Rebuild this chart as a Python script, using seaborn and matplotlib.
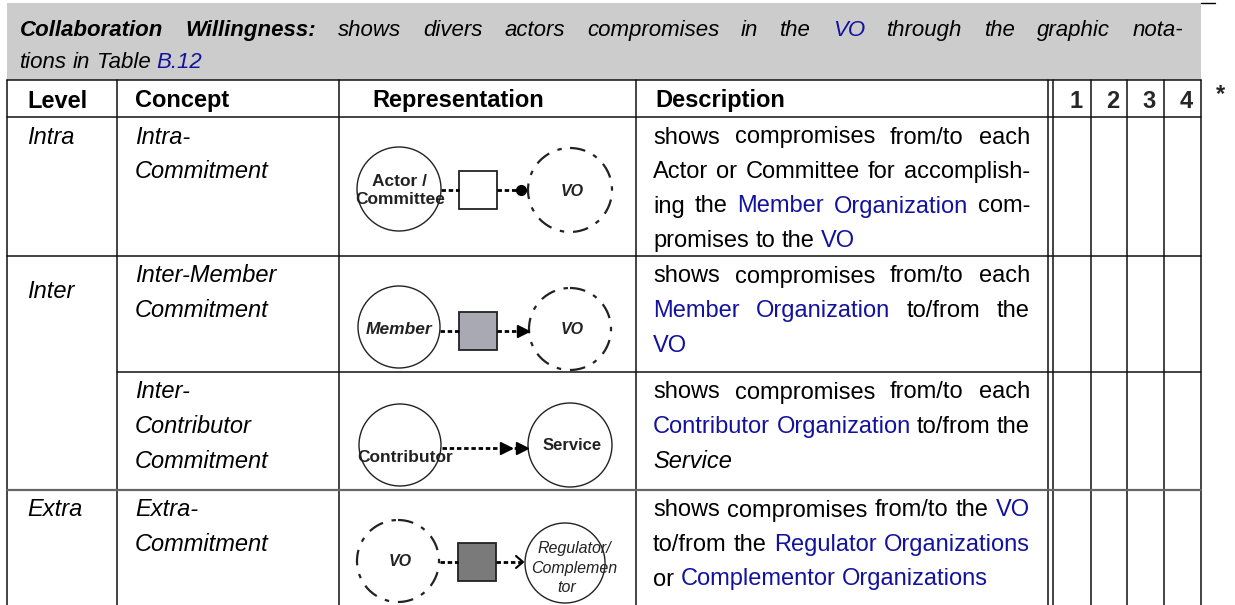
import seaborn as sns
import matplotlib.pyplot as plt
from matplotlib.patches import Circle, Rectangle

# table content
title_line1 = [("Collaboration Willingness:", "bi"), ("shows divers actors compromises in the", "i"),
               ("VO", "li"), ("through the graphic nota-", "i")]
title_line2 = [("tions in Table", "i"), ("B.12", "li")]
header = ["Level", "Concept", "Representation", "Description"]
score_cols = ["1", "2", "3", "4"]
levels = ["Intra", "Inter", "", "Extra"]
concepts = [["Intra-", "Commitment"],
            ["Inter-Member", "Commitment"],
            ["Inter-", "Contributor", "Commitment"],
            ["Extra-", "Commitment"]]
descriptions = [
    [[("shows compromises from/to each", "n")],
     [("Actor or Committee for accomplish-", "n")],
     [("ing the", "n"), ("Member Organization", "l"), ("com-", "n")],
     [("promises to the", "n"), ("VO", "l")]],
    [[("shows compromises from/to each", "n")],
     [("Member Organization", "l"), ("to/from the", "n")],
     [("VO", "l")]],
    [[("shows compromises from/to each", "n")],
     [("Contributor Organization", "l"), ("to/from the", "n")],
     [("Service", "i")]],
    [[("shows compromises from/to the", "n"), ("VO", "l")],
     [("to/from the", "n"), ("Regulator Organizations", "l")],
     [("or", "n"), ("Complementor Organizations", "l")]],
]

sns.set_theme(style="white")
plt.rcParams['font.family'] = ['Liberation Sans', 'DejaVu Sans']

W, H = 1235, 605
BLUE = '#12129e'
FS = 17
fig = plt.figure(figsize=(W / 100, H / 100), dpi=100)
ax = fig.add_axes([0, 0, 1, 1])
ax.set_xlim(0, W)
ax.set_ylim(H, 0)
ax.axis('off')
renderer = fig.canvas.get_renderer()


def props(kind, fs):
    d = dict(fontsize=fs, color='black', style='normal', weight='normal')
    if 'l' in kind:
        d['color'] = BLUE
    if 'i' in kind:
        d['style'] = 'italic'
    if 'b' in kind:
        d['weight'] = 'bold'
    return d


def width(s, p):
    t = ax.text(0, 0, s, **p)
    w = t.get_window_extent(renderer).width
    t.remove()
    return w


def line(x0, x1, yc, segs, fs=FS, justify=False):
    words = []
    for txt, kind in segs:
        for w in txt.split():
            words.append((w, props(kind, fs)))
    ws = [width(w, p) for w, p in words]
    p0 = props("n", fs)
    gap = width("a a", p0) - width("aa", p0)
    if justify and len(words) > 1:
        gap = (x1 - x0 - sum(ws)) / (len(words) - 1)
    base = yc + 0.36 * fs * 100 / 72
    x = x0
    for (w, p), wd in zip(words, ws):
        ax.text(x, base, w, va='baseline', ha='left', **p)
        x += wd + gap


# caption box
ax.add_patch(Rectangle((7, 3), 1194, 77, fc='#cccccc', ec='none'))
ax.plot([1201, 1215], [3, 3], color='black', lw=1)
line(20, 1183, 28, title_line1, fs=16, justify=True)
line(20, 1183, 60, title_line2, fs=16)

# grid
cols = [7, 117, 339, 636, 1048, 1053, 1091, 1127, 1164, 1201]
for x in cols:
    ax.plot([x, x], [80, H], color='#111111', lw=1.1)
for y, xa in [(80, 7), (117, 7), (256, 7), (372, 117), (490, 7)]:
    ax.plot([xa, 1201], [y, y], color='#111111' if y != 490 else '#666666', lw=1.1 if y != 490 else 1.6)

# header
for txt, x in zip(header, [27, 135, 372, 655]):
    line(x, x, 99, [(txt, "b")])
for txt, x in zip(score_cols, cols[6:]):
    ax.text(x - 8, 99 + 8.5, txt, ha='right', va='baseline', fontsize=FS, weight='bold')
ax.text(1221, 101, "*", ha='center', va='baseline', fontsize=FS, weight='bold')

# body
row_tops = [117, 256, 372, 490]
LS = 34.5
for i, top in enumerate(row_tops):
    y0 = top + 18
    if levels[i]:
        yl = 290 if levels[i] == "Inter" else y0
        line(27, 27, yl, [(levels[i], "i")])
    for k, c in enumerate(concepts[i]):
        line(135, 135, y0 + k * LS, [(c, "i")])
    desc = descriptions[i]
    for k, segs in enumerate(desc):
        line(653, 1030, y0 + k * LS, segs, justify=(k < len(desc) - 1))

# representations
EC = '#222222'
DASHC = (0, (7, 4, 2, 4))


def circ(cx, cy, r, dashed=False):
    ax.add_patch(Circle((cx, cy), r, fill=False, ec=EC, lw=1.0 if not dashed else 1.6,
                        ls=DASHC if dashed else '-'))


def box(cx, cy, fc, s=38):
    ax.add_patch(Rectangle((cx - s / 2, cy - s / 2), s, s, fc=fc, ec=EC, lw=1.3))


def dash(x0, x1, y):
    ax.plot([x0, x1], [y, y], color='black', lw=2.0, ls=(0, (1.6, 1.0)))


def lab(x, y, s, fs=12, **kw):
    ax.text(x, y, s, ha='center', va='center', fontsize=fs, color='#222222', **kw)


# intra
circ(399, 189, 42)
lab(400, 182, "Actor /", fs=12.5, weight='bold')
lab(400, 199, "Committee", fs=12.5, weight='bold')
box(478, 190, 'white')
circ(570, 190, 42, dashed=True)
lab(572, 191, "VO", fs=11.5, weight='bold', style='italic')
dash(441, 459, 190)
dash(497, 518, 190)
ax.plot([521], [190], marker='o', ms=7, color='black')

# inter member
circ(399, 327, 41)
lab(399, 330, "Member", fs=12.5, weight='bold', style='italic')
box(478, 331, '#a9a9b3')
circ(570, 329, 41, dashed=True)
lab(572, 329, "VO", fs=11.5, weight='bold', style='italic')
dash(440, 459, 331)
dash(497, 520, 331)
ax.plot([523], [331], marker='>', ms=8, color='black')

# inter contributor
circ(400, 445, 41)
lab(405, 458, "Contributor", fs=12.5, weight='bold')
circ(570, 445, 42)
lab(572, 446, "Service", fs=12, weight='bold')
dash(442, 520, 448)
ax.plot([506, 522], [448, 448], ls='none', marker='>', ms=8, color='black')

# extra
circ(398, 561, 41, dashed=True)
lab(400, 562, "VO", fs=11.5, weight='bold', style='italic')
box(477, 562, '#7a7a7a')
circ(565, 563, 40)
dash(440, 458, 562)
dash(496, 521, 562)
ax.plot([516, 523, 516], [556, 562, 568], color='black', lw=1.5)
lab(574, 548, "Regulator/", fs=11.5, style='italic')
lab(574, 568, "Complemen", fs=11.5, style='italic')
lab(567, 588, "tor", fs=11.5, style='italic')

fig.savefig("out.png", dpi=100)
